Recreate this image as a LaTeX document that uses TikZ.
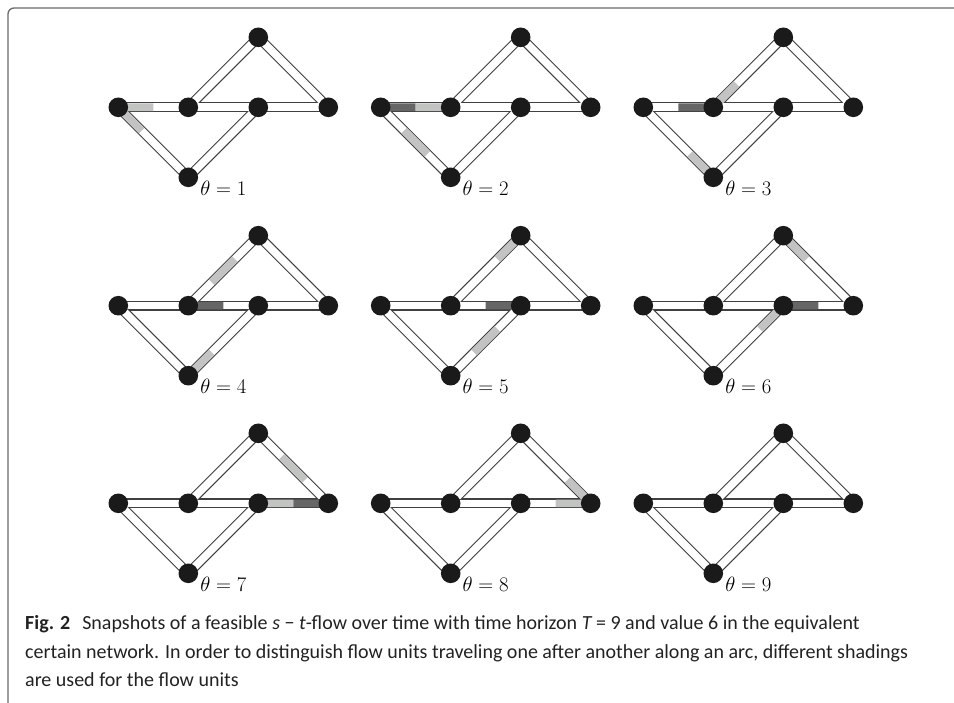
\documentclass[tikz,border=0pt]{standalone}
\usepackage[no-math]{fontspec}
\newfontfamily\capfont{Carlito}
\usetikzlibrary{calc}
\pgfdeclarelayer{tubes}
\pgfsetlayers{tubes,main}
\definecolor{nodeblk}{HTML}{1A1A1A}
\definecolor{tubeline}{HTML}{404040}
\definecolor{lightflow}{HTML}{C2C4C2}
\definecolor{darkflow}{HTML}{666666}
\definecolor{framegray}{HTML}{6A6A6A}
\definecolor{captext}{HTML}{222222}
\tikzset{
  vertex/.style={circle, fill=nodeblk, draw=none, minimum size=19.6pt, inner sep=0pt},
  tubeout/.style={line width=9.8pt, draw=tubeline},
  tubein/.style={line width=7.6pt, draw=white},
  flowseg/.style={line width=7.6pt, line cap=butt},
  thetalabel/.style={font=\fontsize{21}{24}\selectfont, inner sep=0pt},
  capline/.style={font=\capfont\fontsize{20}{24}\selectfont, anchor=base west, inner sep=0pt, text=captext},
}
\begin{document}
\begin{tikzpicture}[x=1pt,y=-1pt]
\useasboundingbox (0,0) rectangle (954,703);
\draw[framegray, line width=1.3pt, rounded corners=6pt] (8,703) -- (8,8) -- (954,8);

\foreach \p/\x/\y in {1/118.3/107.3, 2/380.7/107.3, 3/643.3/107.3,
                      4/118.3/305.7, 5/380.7/305.7, 6/643.3/305.7,
                      7/118.3/503.3, 8/380.7/503.3, 9/643.3/503.3} {
  \node[vertex] (p\p-s) at (\x,\y) {};
  \node[vertex] (p\p-a) at (\x+70,\y) {};
  \node[vertex] (p\p-b) at (\x+140,\y) {};
  \node[vertex] (p\p-t) at (\x+210,\y) {};
  \node[vertex] (p\p-u) at (\x+140,\y-70) {};
  \node[vertex] (p\p-d) at (\x+70,\y+70) {};
  \node[thetalabel] (p\p-lab) at (\x+105,\y+81) {$\theta = \p$};
  \begin{pgfonlayer}{tubes}
    \foreach \u/\v in {s/a,a/b,b/t,a/u,u/t,s/d,d/b}
      \draw[tubeout] (p\p-\u.center) -- (p\p-\v.center);
    \foreach \u/\v in {s/a,a/b,b/t,a/u,u/t,s/d,d/b}
      \draw[tubein] (p\p-\u.center) -- (p\p-\v.center);
  \end{pgfonlayer}
}

\begin{pgfonlayer}{tubes}
\foreach \p/\u/\v/\fa/\fb/\c in {
  1/s/a/0/0.5/lightflow, 1/s/d/0/0.3333/lightflow,
  2/s/a/0/0.5/darkflow, 2/s/a/0.5/1/lightflow, 2/s/d/0.3333/0.6667/lightflow,
  3/s/a/0.5/1/darkflow, 3/a/u/0/0.3333/lightflow, 3/s/d/0.6667/1/lightflow,
  4/a/u/0.3333/0.6667/lightflow, 4/a/b/0/0.5/darkflow, 4/d/b/0/0.3333/lightflow,
  5/a/u/0.6667/1/lightflow, 5/a/b/0.5/1/darkflow, 5/d/b/0.3333/0.6667/lightflow,
  6/u/t/0/0.3333/lightflow, 6/b/t/0/0.5/darkflow, 6/d/b/0.6667/1/lightflow,
  7/u/t/0.3333/0.6667/lightflow, 7/b/t/0/0.5/lightflow, 7/b/t/0.5/1/darkflow,
  8/u/t/0.6667/1/lightflow, 8/b/t/0.5/1/lightflow}
  \draw[flowseg, draw=\c] ($(p\p-\u.center)!\fa!(p\p-\v.center)$) -- ($(p\p-\u.center)!\fb!(p\p-\v.center)$);
\end{pgfonlayer}

\node[capline] (cap1) at (25,629) {{\bfseries Fig. 2}\hspace{0.6em}Snapshots of a feasible {\itshape s} − {\itshape t}-flow over time with time horizon {\itshape T} = 9 and value 6 in the equivalent};
\node[capline] (cap2) at (25,658) {certain network. In order to distinguish flow units traveling one after another along an arc, different shadings};
\node[capline] (cap3) at (25,686) {are used for the flow units};
\end{tikzpicture}
\end{document}
